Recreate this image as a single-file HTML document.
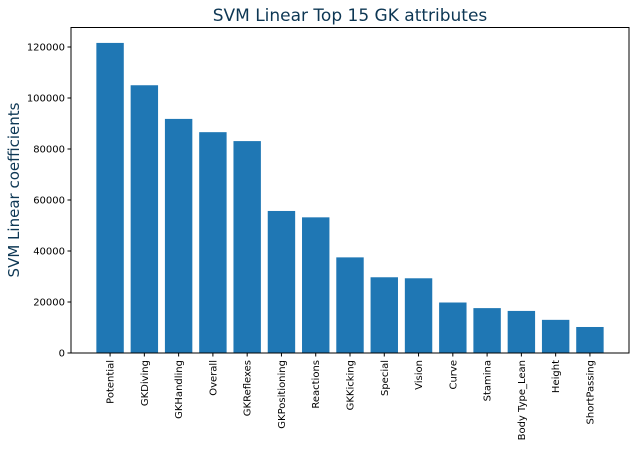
<!DOCTYPE html>
<html><head><meta charset="utf-8"><style>
body{margin:0;background:#fff;}
svg{display:block;font-family:"DejaVu Sans","Liberation Sans",sans-serif;}
</style></head><body>
<svg id="chart" width="639" height="449" viewBox="0 0 639 449" xmlns="http://www.w3.org/2000/svg">
<text x="350" y="21" text-anchor="middle" font-size="17" fill="#0d3754">SVM Linear Top 15 GK attributes</text>
<text transform="translate(19,190) rotate(-90)" text-anchor="middle" font-size="15" fill="#0d3754">SVM Linear coefficients</text>
<g id="bars"></g><g id="xt"></g><g id="yt"></g>
<rect x="71" y="27.5" width="558" height="325.5" fill="none" stroke="#000" stroke-width="1"/>
</svg>
<script>
const categories=["Potential","GKDiving","GKHandling","Overall","GKReflexes","GKPositioning","Reactions","GKKicking","Special","Vision","Curve","Stamina","Body Type_Lean","Height","ShortPassing"];
const values=[121600,105000,91800,86600,83100,55700,53200,37500,29700,29300,19800,17600,16500,13000,10200];
const yTicks=[0,20000,40000,60000,80000,100000,120000];
const NS="http://www.w3.org/2000/svg";
const L=71,R=629,B=353,T=27.5;
const xmin=-1.14,xmax=categories.length-1+1.14;
const ymax=(B-T)/51*20000;
function xs(i){return L+(i-xmin)/(xmax-xmin)*(R-L);}
function ys(v){return B-v/ymax*(B-T);}
const bw=(xs(1)-xs(0))*0.8;
const bars=document.getElementById('bars'),xt=document.getElementById('xt'),yt=document.getElementById('yt');
function mk(t,a,p){const e=document.createElementNS(NS,t);for(const k in a)e.setAttribute(k,a[k]);p.appendChild(e);return e;}
categories.forEach((c,i)=>{
 const r=mk('rect',{x:xs(i)-bw/2,y:ys(values[i]),width:bw,height:B-ys(values[i]),fill:'#1f77b4'},bars);
 
 
 mk('line',{x1:xs(i),x2:xs(i),y1:B,y2:B+3.5,stroke:'#000'},xt);
 const t=mk('text',{transform:`translate(${xs(i)+3.5},${B+7}) rotate(-90)`,'text-anchor':'end','font-size':'10',fill:'#000'},xt);
 t.textContent=c;
 
 
});
yTicks.forEach(v=>{
 mk('line',{x1:L-3.5,x2:L,y1:ys(v),y2:ys(v),stroke:'#000'},yt);
 const t=mk('text',{x:L-6,y:ys(v)+3.5,'text-anchor':'end','font-size':'10',fill:'#000'},yt);
 t.textContent=v;
 
 
});
</script>
</body></html>
